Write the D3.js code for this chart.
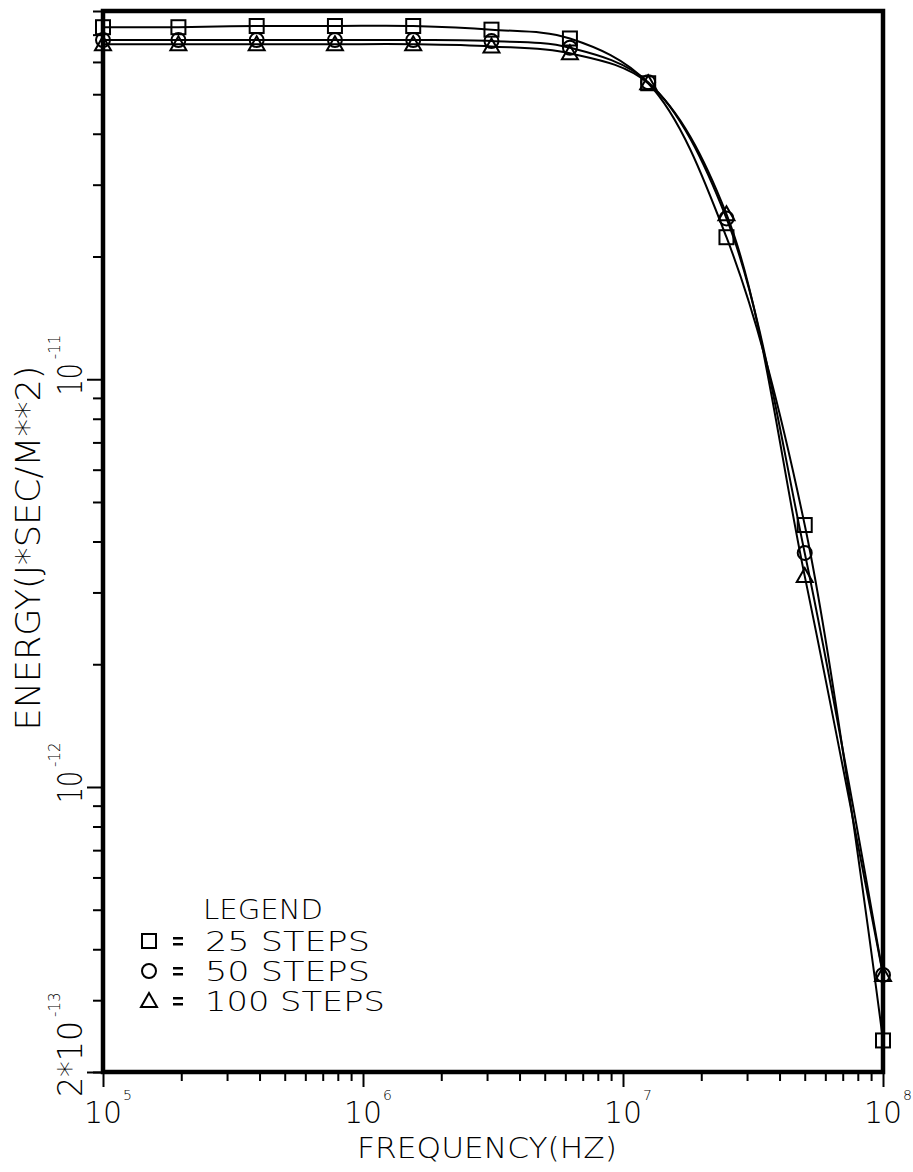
<!DOCTYPE html>
<html><head><meta charset="utf-8">
<script src="https://cdn.jsdelivr.net/npm/d3@7"></script>
<style>
body{margin:0;background:#fff}
svg{display:block}
text{font-family:"DejaVu Sans","DejaVu Sans Condensed",sans-serif;font-weight:200;fill:#000}
</style>
</head><body>
<svg id="c" width="913" height="1172"></svg>
<script>
// ---- data ----
const frequencies = [1e5, 1.95e5, 3.9e5, 7.8e5, 1.56e6, 3.12e6, 6.25e6, 1.25e7, 2.5e7, 5e7, 1e8];
const steps25  = [7.30e-11, 7.30e-11, 7.35e-11, 7.35e-11, 7.35e-11, 7.20e-11, 6.85e-11, 5.32e-11, 2.23e-11, 4.39e-12, 2.39e-13];
const steps50  = [6.79e-11, 6.79e-11, 6.79e-11, 6.79e-11, 6.79e-11, 6.75e-11, 6.50e-11, 5.35e-11, 2.48e-11, 3.75e-12, 3.46e-13];
const steps100 = [6.63e-11, 6.63e-11, 6.63e-11, 6.63e-11, 6.63e-11, 6.55e-11, 6.30e-11, 5.32e-11, 2.54e-11, 3.29e-12, 3.46e-13];
const seriesNames = ["25 STEPS", "50 STEPS", "100 STEPS"];
const seriesSymbols = ["square", "circle", "triangle"];
const xTickValues = [1e5, 1e6, 1e7, 1e8];
const xTickBase = ["10", "10", "10", "10"];
const xTickSup = ["5", "6", "7", "8"];
const yTickValues = [2e-13, 1e-12, 1e-11];
const yTickBase = ["2*10", "10", "10"];
const yTickSup = ["-13", "-12", "-11"];
const xTitle = "FREQUENCY(HZ)";
const yTitle = "ENERGY(J*SEC/M**2)";
const legendTitle = "LEGEND";

// ---- layout ----
const L = 103, R = 883, T = 11, B = 1072;
const svg = d3.select("#c");
const x = d3.scaleLog().domain([1e5, 1e8]).range([L, R]);
const y = d3.scaleLog().domain([2e-13, 8e-11]).range([B, T]);

const seriesValues = [steps25, steps50, steps100];
const series = seriesValues.map((vals, i) => ({
  name: seriesNames[i], sym: seriesSymbols[i],
  pts: frequencies.map((f, j) => ({f, v: vals[j]}))
}));

function minorTicks(scale) {
  return scale.ticks().filter(t => {
    const d = t / Math.pow(10, Math.floor(Math.log10(t) + 1e-9));
    return Math.abs(d - 1) > 1e-6;
  });
}
const gxMinor = svg.append("g").attr("transform", `translate(0,${B})`)
  .call(d3.axisBottom(x).tickValues(minorTicks(x)).tickFormat("").tickSize(9).tickSizeOuter(0));
const gxMajor = svg.append("g").attr("transform", `translate(0,${B})`)
  .call(d3.axisBottom(x).tickValues(xTickValues).tickFormat("").tickSize(15).tickSizeOuter(0));
const gyMinor = svg.append("g").attr("transform", `translate(${L},0)`)
  .call(d3.axisLeft(y).tickValues(minorTicks(y)).tickFormat("").tickSize(10).tickSizeOuter(0));
const gyMajor = svg.append("g").attr("transform", `translate(${L},0)`)
  .call(d3.axisLeft(y).tickValues(yTickValues).tickFormat("").tickSize(16).tickSizeOuter(0));
[gxMinor, gxMajor, gyMinor, gyMajor].forEach(g => {
  g.select(".domain").remove();
  g.selectAll(".tick line").attr("stroke", "#000").attr("stroke-width", 2);
});

// frame
svg.append("rect").attr("x", L).attr("y", T).attr("width", R - L).attr("height", B - T)
  .attr("fill", "none").attr("stroke", "#000").attr("stroke-width", 4.5);

// x tick labels
xTickValues.forEach((v, i) => {
  svg.append("text").attr("x", x(v)).attr("y", 1123).attr("text-anchor", "middle")
    .attr("font-size", 30).text(xTickBase[i]);
  svg.append("text").attr("x", x(v) + 20).attr("y", 1100)
    .attr("font-size", 14).text(xTickSup[i]);
});

// y tick labels (rotated, reading upward)
const yBaseOffset = [25, 16, 16];
const yBaseLen = [76, 32, 32];
yTickValues.forEach((v, i) => {
  const y0 = y(v) + yBaseOffset[i];
  svg.append("text").attr("transform", `translate(82,${y0}) rotate(-90)`)
    .attr("font-size", 34).attr("textLength", yBaseLen[i]).attr("lengthAdjust", "spacingAndGlyphs").text(yTickBase[i]);
  svg.append("text").attr("transform", `translate(60,${y0 - yBaseLen[i] - 4}) rotate(-90)`)
    .attr("font-size", 15).text(yTickSup[i]);
});

// axis titles
svg.append("text").attr("x", 487).attr("y", 1158).attr("text-anchor", "middle")
  .attr("font-size", 29).attr("textLength", 260).attr("lengthAdjust", "spacingAndGlyphs").text(xTitle);
svg.append("text").attr("transform", "translate(40,548) rotate(-90)").attr("text-anchor", "middle")
  .attr("font-size", 34).attr("textLength", 365).attr("lengthAdjust", "spacingAndGlyphs").text(yTitle);

// lines
const line = d3.line().x(d => x(d.f)).y(d => y(d.v)).curve(d3.curveCatmullRom.alpha(0.5));
const plot = svg.append("g");
plot.selectAll("path.s").data(series).join("path").attr("class", "s")
  .attr("d", d => line(d.pts)).attr("fill", "none").attr("stroke", "#000")
  .attr("stroke-width", 2).attr("stroke-linejoin", "round");

function drawSymbol(g, sym, cx, cy) {
  if (sym === "square") {
    g.append("rect").attr("x", cx - 7).attr("y", cy - 7).attr("width", 14).attr("height", 14)
      .attr("fill", "none").attr("stroke", "#000").attr("stroke-width", 2);
  } else if (sym === "circle") {
    g.append("circle").attr("cx", cx).attr("cy", cy).attr("r", 7)
      .attr("fill", "none").attr("stroke", "#000").attr("stroke-width", 2);
  } else {
    g.append("path").attr("d", `M${cx},${cy - 8}L${cx + 8},${cy + 6}L${cx - 8},${cy + 6}Z`)
      .attr("fill", "none").attr("stroke", "#000").attr("stroke-width", 2);
  }
}
series.forEach(s => s.pts.forEach(p => drawSymbol(plot, s.sym, x(p.f), y(p.v))));

// legend
const lg = svg.append("g");
lg.append("text").attr("x", 203).attr("y", 919).attr("font-size", 26)
  .attr("textLength", 120).attr("lengthAdjust", "spacingAndGlyphs").text(legendTitle);
const rowBase = [951, 981, 1011];
const rowLen = [165, 165, 180];
series.forEach((s, i) => {
  drawSymbol(lg, s.sym, 149, rowBase[i] - 10);
  lg.append("rect").attr("x", 173).attr("y", rowBase[i] - 14).attr("width", 10).attr("height", 2.5).attr("fill", "#000");
  lg.append("rect").attr("x", 173).attr("y", rowBase[i] - 8).attr("width", 10).attr("height", 2.5).attr("fill", "#000");
  lg.append("text").attr("x", 205).attr("y", rowBase[i]).attr("font-size", 26)
    .attr("textLength", rowLen[i]).attr("lengthAdjust", "spacingAndGlyphs").text(s.name);
});
</script>
</body></html>
